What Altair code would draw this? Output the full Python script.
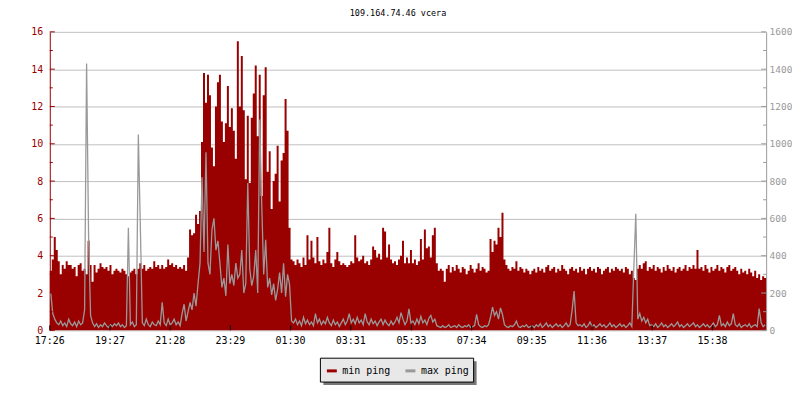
import altair as alt
import pandas as pd

TITLE = "109.164.74.46 vcera"
SERIES = ["min ping", "max ping"]
COLORS = ["#990000", "#999999"]
MONO = "DejaVu Sans Mono"
STEP_MIN = 4  # minutes between samples, day starts at 17:26

# min ping (left axis, 0-16)
MIN_PING = [
    3.2, 3.8, 5.0, 4.3, 3.7, 3.0, 3.5, 3.3, 3.7, 3.5,
    3.5, 3.3, 3.4, 2.9, 3.5, 3.6, 3.2, 3.3, 3.0, 4.8,
    3.5, 2.6, 3.5, 3.1, 3.3, 3.6, 3.4, 3.3, 3.4, 3.2,
    3.5, 3.0, 3.2, 3.3, 3.2, 3.1, 3.3, 3.2, 3.0, 2.9,
    3.1, 3.2, 3.3, 3.0, 3.3, 3.6, 3.3, 3.5, 3.2, 3.3,
    3.4, 3.3, 3.7, 3.4, 3.5, 3.3, 3.5, 3.3, 3.4, 3.8,
    3.5, 3.6, 3.4, 3.5, 3.3, 3.4, 3.3, 3.5, 3.2, 3.9,
    5.4, 5.1, 5.2, 6.2, 5.7, 6.4, 10.1, 13.8, 12.2, 13.7,
    12.6, 9.8, 8.8, 12.0, 13.3, 13.7, 11.2, 10.1, 11.1, 13.1,
    10.9, 11.9, 10.7, 9.2, 15.5, 12.0, 14.7, 11.8, 8.1, 11.5,
    7.9, 11.4, 12.7, 14.2, 10.4, 13.7, 7.2, 12.6, 14.1, 8.5,
    9.6, 6.5, 8.0, 8.4, 9.9, 6.9, 9.1, 9.5, 12.4, 10.7,
    5.5, 3.8, 3.7, 3.5, 3.8, 3.6, 3.4, 3.9, 3.5, 5.1,
    3.8, 4.8, 3.9, 3.6, 5.0, 3.7, 3.5, 3.8, 3.6, 4.2,
    5.5, 3.6, 3.4, 3.8, 4.2, 3.7, 3.5, 3.6, 3.5, 3.4,
    3.5, 3.7, 3.6, 5.1, 3.9, 3.7, 3.8, 4.0, 3.6, 3.7,
    3.5, 3.8, 4.5, 4.3, 3.9, 4.1, 3.8, 5.5, 5.3, 3.9,
    4.6, 3.8, 3.6, 3.7, 3.5, 3.8, 4.0, 4.8, 3.6, 3.9,
    3.6, 4.3, 3.6, 3.8, 3.5, 3.7, 4.9, 3.8, 5.4, 4.4,
    4.5, 3.9, 5.1, 5.5, 3.6, 3.2, 3.3, 3.2, 2.6, 3.3,
    3.5, 3.1, 3.4, 3.2, 3.5, 3.3, 3.1, 3.4, 3.3, 3.0,
    3.2, 3.5, 3.3, 3.1, 3.3, 3.6, 3.2, 3.4, 3.3, 3.1,
    3.2, 4.9, 4.2, 4.8, 4.6, 5.5, 5.0, 6.3, 3.8, 3.5,
    3.3, 3.2, 3.4, 3.3, 3.7, 3.2, 3.4, 3.3, 3.1, 3.3,
    3.2, 3.0, 3.2, 3.3, 3.1, 3.4, 3.2, 3.3, 3.1, 3.4,
    3.5, 3.2, 3.3, 3.4, 3.1, 3.3, 3.2, 3.5, 3.3, 3.2,
    3.0, 3.3, 3.4, 3.2, 3.3, 3.1, 3.4, 3.2, 3.3, 3.0,
    3.3, 3.4, 3.2, 3.3, 3.1, 3.4, 3.3, 3.0, 3.2, 3.3,
    3.4, 3.1, 3.3, 3.2, 3.4, 3.3, 3.2, 3.3, 3.1, 3.4,
    3.3, 3.0, 3.2, 2.8, 2.7, 3.3, 3.5, 3.3, 3.6, 3.7,
    3.2, 3.4, 3.3, 3.5, 3.2, 3.4, 3.3, 3.1, 3.4, 3.2,
    3.5, 3.3, 3.2, 3.4, 3.1, 3.3, 3.4, 3.2, 3.3, 3.5,
    3.2, 3.4, 3.3, 3.5, 3.3, 4.3, 3.3, 3.4, 3.2, 3.5,
    3.3, 3.1, 3.4, 3.2, 3.3, 3.5, 3.2, 3.4, 3.3, 3.1,
    3.4, 3.5, 3.2, 3.3, 3.4, 3.2, 3.0, 3.3, 3.1, 3.2,
    3.0, 3.3, 3.1, 2.9, 3.2, 2.8, 3.0, 2.7, 2.9, 2.8,
]

# max ping (right axis, 0-1600)
MAX_PING = [
    200, 90, 60, 40, 30, 50, 25, 40, 20, 60,
    35, 25, 45, 20, 50, 30, 40, 110, 1430, 500,
    80, 40, 20, 35, 15, 30, 20, 40, 25, 15,
    30, 20, 35, 25, 40, 20, 30, 15, 25, 550,
    30, 45, 20, 30, 1050, 560, 40, 25, 60, 30,
    20, 45, 30, 25, 50, 30, 150, 40, 25, 60,
    30, 40, 60, 30, 45, 25, 90, 140, 50, 100,
    150, 110, 200, 130, 250, 360, 820, 420, 955, 360,
    300, 540, 600, 430, 480, 360, 230, 280, 185, 460,
    250, 300, 240, 360, 280, 300, 430, 200, 250, 790,
    330, 240, 290, 430, 200, 1130, 680, 300, 485, 230,
    280, 190, 250, 160, 220, 310, 200, 360, 180, 300,
    245, 50, 40, 60, 30, 50, 25, 70, 35, 55,
    30, 45, 25, 90, 40, 60, 30, 50, 35, 70,
    40, 25, 55, 30, 45, 20, 40, 60, 30, 50,
    90, 40, 60, 35, 70, 40, 55, 30, 90, 45,
    30, 60, 35, 50, 25, 45, 60, 30, 55, 35,
    25, 50, 30, 45, 70, 40, 95, 60, 30, 50,
    115, 40, 50, 30, 60, 35, 75, 40, 55, 30,
    65, 80, 45, 60, 25, 20, 15, 25, 15, 20,
    30, 15, 20, 25, 15, 30, 20, 15, 25, 20,
    30, 15, 20, 25, 85, 30, 20, 15, 25, 20,
    30, 70, 125, 80, 100, 60, 120, 85, 30, 20,
    15, 25, 20, 30, 50, 20, 15, 25, 20, 30,
    15, 20, 25, 15, 30, 20, 35, 15, 25, 40,
    20, 30, 15, 25, 35, 20, 30, 15, 25, 40,
    20, 30, 110, 210, 40, 25, 30, 20, 35, 15,
    25, 45, 20, 30, 15, 25, 35, 20, 30, 15,
    25, 40, 20, 30, 15, 25, 35, 20, 30, 15,
    25, 40, 20, 330, 625, 60, 90, 50, 70, 40,
    60, 25, 30, 20, 35, 15, 25, 40, 20, 30,
    15, 25, 35, 20, 30, 45, 20, 30, 15, 25,
    35, 20, 30, 40, 20, 30, 15, 25, 35, 20,
    30, 15, 25, 40, 20, 30, 80, 25, 35, 20,
    45, 25, 35, 90, 30, 20, 35, 15, 25, 30,
    20, 35, 15, 25, 30, 20, 117, 40, 20, 30,
]

TICK_MINUTES = [0, 121, 242, 363, 484, 605, 727, 848, 969, 1090, 1211, 1332]
TICK_LABELS = ["17:26", "19:27", "21:28", "23:29", "01:30", "03:31",
               "05:33", "07:34", "09:35", "11:36", "13:37", "15:38"]
LEFT_TICKS = [0, 2, 4, 6, 8, 10, 12, 14, 16]
LEFT_MINOR = [1, 3, 5, 7, 9, 11, 13, 15]
RIGHT_TICKS = [0, 200, 400, 600, 800, 1000, 1200, 1400, 1600]
RIGHT_MINOR = [100, 300, 500, 700, 900, 1100, 1300, 1500]

W, H = 720, 300
n = len(MIN_PING)
t_end = n * STEP_MIN

area_df = pd.DataFrame({
    "t": [STEP_MIN * i for i in range(n)] + [t_end],
    "minp": MIN_PING + [MIN_PING[-1]],
    "s": SERIES[0],
})
line_df = pd.DataFrame({
    "t": [STEP_MIN * i + STEP_MIN / 2 for i in range(n)],
    "maxp": MAX_PING,
    "s": SERIES[1],
})
tick_df = pd.DataFrame({"m": TICK_MINUTES, "lab": TICK_LABELS})

xscale = alt.Scale(domain=[0, t_end], nice=False, zero=False)
lscale = alt.Scale(domain=[0, 16], nice=False)
rscale = alt.Scale(domain=[0, 1600], nice=False)
cscale = alt.Scale(domain=SERIES, range=COLORS)

red_area = alt.Chart(area_df).mark_area(
    interpolate="step-after", color=COLORS[0], opacity=1
).encode(
    x=alt.X("t:Q", scale=xscale, axis=alt.Axis(
        values=TICK_MINUTES, labels=False, title=None, grid=False,
        ticks=False, tickSize=0, domainColor="black")),
    y=alt.Y("minp:Q", scale=lscale, axis=alt.Axis(
        orient="left", values=LEFT_TICKS, title=None, grid=True,
        gridColor="#c0c0c0", ticks=False, tickSize=0, domainColor=COLORS[0],
        labelColor=COLORS[0], labelFont=MONO, labelFontSize=10, labelPadding=7)),
)

gray_line = alt.Chart(line_df).mark_line(strokeWidth=1.3, interpolate="linear").encode(
    x=alt.X("t:Q", scale=xscale, axis=None),
    y=alt.Y("maxp:Q", scale=rscale, axis=alt.Axis(
        orient="right", values=RIGHT_TICKS, format="d", title=None, grid=False,
        ticks=False, tickSize=0, domainColor=COLORS[1], labelColor=COLORS[1],
        labelFont=MONO, labelFontSize=9.5, labelPadding=3)),
    color=alt.Color("s:N", scale=cscale, legend=alt.Legend(
        orient="none", legendX=277, legendY=334, direction="horizontal",
        title=None, symbolType="stroke", symbolStrokeWidth=3, symbolSize=100,
        labelFont=MONO, labelFontSize=10, labelColor="black", labelOffset=4,
        columnPadding=8, padding=0)),
)


def yticks(vals, scale, color, x0, x1):
    return alt.Chart(pd.DataFrame({"v": vals})).mark_rule(color=color, strokeWidth=1).encode(
        y=alt.Y("v:Q", scale=scale, axis=None),
        x=alt.value(x0), x2=alt.value(x1),
    )


left_major = yticks(LEFT_TICKS, lscale, COLORS[0], 0, 5)
left_minor = yticks(LEFT_MINOR, lscale, COLORS[0], 0, 3)
right_major = yticks(RIGHT_TICKS, rscale, COLORS[1], W - 5, W)
right_minor = yticks(RIGHT_MINOR, rscale, COLORS[1], W - 3, W)

bottom_ticks = alt.Chart(tick_df).mark_rule(color="black", strokeWidth=1).encode(
    x=alt.X("m:Q", scale=xscale, axis=None),
    y=alt.value(H - 5), y2=alt.value(H),
)
# time-of-day tick labels under the x axis
bottom_labels = alt.Chart(tick_df).mark_text(
    font=MONO, fontSize=10, color="black", baseline="middle", align="center"
).encode(
    x=alt.X("m:Q", scale=xscale, axis=None),
    y=alt.value(H + 11),
    text="lab:N",
)

one = pd.DataFrame({"a": [0]})
legend_shadow = alt.Chart(one).mark_rect(color="#777777").encode(
    x=alt.value(275), x2=alt.value(429), y=alt.value(331), y2=alt.value(355)
)
legend_box = alt.Chart(one).mark_rect(
    fill="#e8e8e8", stroke="black", strokeWidth=1
).encode(
    x=alt.value(272), x2=alt.value(426), y=alt.value(328), y2=alt.value(352)
)

chart = alt.layer(
    legend_shadow, legend_box, red_area, gray_line,
    left_major, left_minor, right_major, right_minor, bottom_ticks, bottom_labels,
).resolve_scale(y="independent").properties(
    width=W, height=H,
    title=alt.TitleParams(TITLE, font=MONO, fontSize=8.5, fontWeight="normal",
                          color="black", anchor="middle", dx=-10, offset=9),
    autosize=alt.AutoSizeParams(type="none"),
    padding={"left": 42, "top": 23, "right": 26, "bottom": 61},
    background="white",
).configure_view(stroke=None)

chart.save("out.html", embed_options={"renderer": "svg", "actions": False})
